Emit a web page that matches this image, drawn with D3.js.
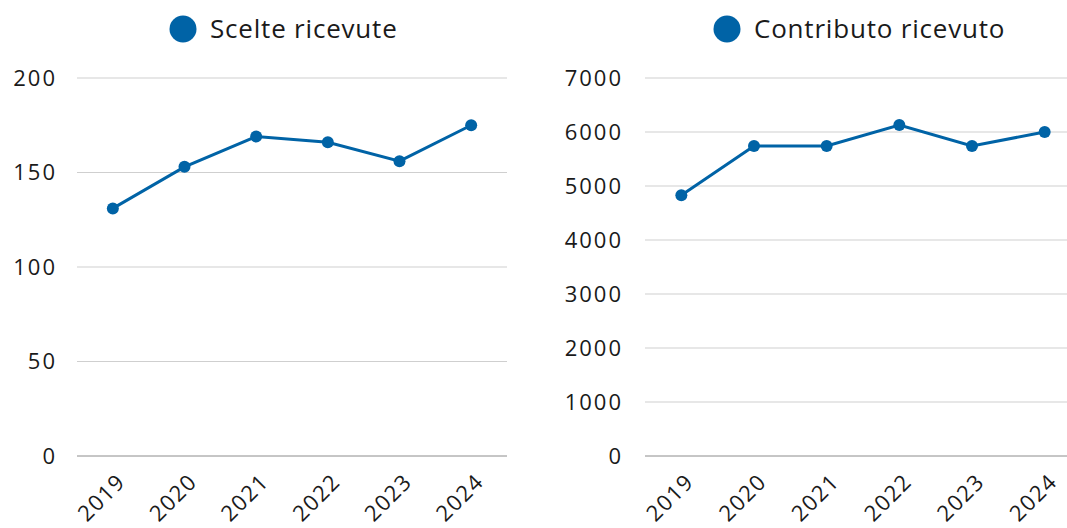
<!DOCTYPE html>
<html>
<head>
<meta charset="utf-8">
<script src="https://cdn.jsdelivr.net/npm/d3@7"></script>
<style>
  body { margin: 0; background: #fff; overflow: hidden; }
  text { font-family: "Open Sans", Lato, sans-serif; fill: #1a1a1a; }
</style>
</head>
<body>
<div id="chart"></div>
<script>
// data
var years = ["2019", "2020", "2021", "2022", "2023", "2024"]
var scelte = [131, 153, 169, 166, 156, 175]
var contributo = [4830, 5740, 5740, 6130, 5740, 6000]
var scelteTicks = [0, 50, 100, 150, 200]
var contributoTicks = [0, 1000, 2000, 3000, 4000, 5000, 6000, 7000]

var blue = "#0063a6"

var svg = d3.select("#chart")
    .append("svg")
    .attr("width", 1067)
    .attr("height", 528)

function drawPanel(opts) {
    var g = svg.append("g")

    var x = d3.scalePoint()
        .domain(years)
        .range([opts.left, opts.left + opts.width])
        .padding(0.5)

    var y = d3.scaleLinear()
        .domain([0, opts.max])
        .range([456, 78])

    // grid lines
    g.selectAll(".grid")
        .data(opts.ticks)
        .enter()
        .append("line")
        .attr("x1", opts.left)
        .attr("x2", opts.left + opts.width)
        .attr("y1", d => y(d))
        .attr("y2", d => y(d))
        .attr("stroke", d => d === 0 ? "#8c8c8c" : "#cfcfcf")
        .attr("stroke-width", 1)

    // y labels
    g.selectAll(".ylab")
        .data(opts.ticks)
        .enter()
        .append("text")
        .attr("x", opts.labelX)
        .attr("y", d => y(d))
        .attr("dy", "0.35em")
        .attr("text-anchor", "end")
        .style("font-size", "22px")
        .style("letter-spacing", "2px")
        .text(d => d)

    // x labels, rotated
    g.selectAll(".xlab")
        .data(years)
        .enter()
        .append("text")
        .attr("transform", d => "translate(" + (x(d) + 14) + ",483) rotate(-45)")
        .attr("text-anchor", "end")
        .style("font-size", "22px")
        .style("letter-spacing", "1.5px")
        .text(d => d)

    var line = d3.line()
        .x((d, i) => x(years[i]))
        .y(d => y(d))

    g.append("path")
        .datum(opts.values)
        .attr("d", line)
        .attr("fill", "none")
        .attr("stroke", blue)
        .attr("stroke-width", 3)

    g.selectAll(".dot")
        .data(opts.values)
        .enter()
        .append("circle")
        .attr("cx", (d, i) => x(years[i]))
        .attr("cy", d => y(d))
        .attr("r", 6)
        .attr("fill", blue)

    // legend
    g.append("circle")
        .attr("cx", opts.legendX)
        .attr("cy", 29)
        .attr("r", 13.5)
        .attr("fill", blue)

    g.append("text")
        .attr("x", opts.legendX + 27)
        .attr("y", 29)
        .attr("dy", "0.35em")
        .style("font-size", "26px")
        .style("letter-spacing", "0.8px")
        .text(opts.title)
}

drawPanel({left: 77, width: 430, max: 200, ticks: scelteTicks, values: scelte,
           labelX: 57, legendX: 183, title: "Scelte ricevute"})
drawPanel({left: 645, width: 436, max: 7000, ticks: contributoTicks, values: contributo,
           labelX: 623, legendX: 727, title: "Contributo ricevuto"})
</script>
</body>
</html>
